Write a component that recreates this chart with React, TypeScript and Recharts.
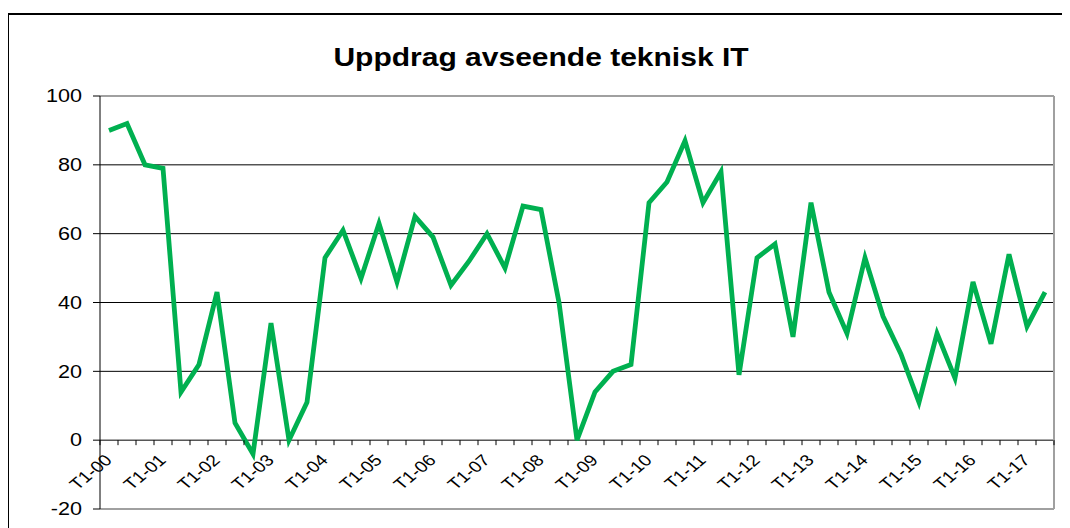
import React from 'react';
import { LineChart, Line, XAxis, YAxis, CartesianGrid } from 'recharts';

const categories = [
  'T1-00', 'T2-00', 'T3-00', 'T1-01', 'T2-01', 'T3-01', 'T1-02', 'T2-02', 'T3-02',
  'T1-03', 'T2-03', 'T3-03', 'T1-04', 'T2-04', 'T3-04', 'T1-05', 'T2-05', 'T3-05',
  'T1-06', 'T2-06', 'T3-06', 'T1-07', 'T2-07', 'T3-07', 'T1-08', 'T2-08', 'T3-08',
  'T1-09', 'T2-09', 'T3-09', 'T1-10', 'T2-10', 'T3-10', 'T1-11', 'T2-11', 'T3-11',
  'T1-12', 'T2-12', 'T3-12', 'T1-13', 'T2-13', 'T3-13', 'T1-14', 'T2-14', 'T3-14',
  'T1-15', 'T2-15', 'T3-15', 'T1-16', 'T2-16', 'T3-16', 'T1-17', 'T2-17',
];

const values = [
  90, 92, 80, 79, 14, 22, 43, 5, -4, 34,
  0, 11, 53, 61, 47, 63, 46, 65, 59, 45,
  52, 60, 50, 68, 67, 40, 0, 14, 20, 22,
  69, 75, 87, 69, 78, 19, 53, 57, 30, 69,
  43, 31, 53, 36, 25, 11, 31, 18, 46, 28,
  54, 33, 43,
];

const yTicks = [-20, 0, 20, 40, 60, 80, 100];

const title = 'Uppdrag avseende teknisk IT';

const data = categories.map((c, i) => ({ label: c, value: values[i] }));

// chart geometry (relative to #root)
const W = 1062;
const H = 520;
const M_TOP = 87;
const TOP_AXIS_H = 1;
const Y_AXIS_W = 92;
const RIGHT_AXIS_W = 1;
const M_RIGHT = 15;
const X_AXIS_H = 19;
const PLOT_TOP = M_TOP + TOP_AXIS_H;
const PLOT_W = W - Y_AXIS_W - RIGHT_AXIS_W - M_RIGHT;
const PLOT_H = H - PLOT_TOP - X_AXIS_H;
const Y_MIN = -20;
const Y_MAX = 100;
const ZERO_Y = PLOT_TOP + (PLOT_H * (Y_MAX - 0)) / (Y_MAX - Y_MIN);

const FONT = '"Liberation Sans", Arial, sans-serif';
const STRETCH = 1.2;

function XTick(props: any) {
  const { x, payload } = props;
  const idx = categories.indexOf(payload.value);
  const band = PLOT_W / categories.length;
  const lbl = payload.value as string;
  return (
    <g>
      <line x1={x - band / 2} x2={x - band / 2} y1={ZERO_Y} y2={ZERO_Y + 5} stroke="#000" strokeWidth={1} />
      {idx === categories.length - 1 && (
        <line x1={x + band / 2} x2={x + band / 2} y1={ZERO_Y} y2={ZERO_Y + 5} stroke="#000" strokeWidth={1} />
      )}
      {lbl.startsWith('T1') && (
        <text
          transform={`translate(${x + 4},${ZERO_Y + 21}) scale(${STRETCH},1) rotate(-45)`}
          textAnchor="end"
          fontSize={16}
          fontFamily={FONT}
          fill="#000"
        >
          {lbl}
        </text>
      )}
    </g>
  );
}

function YTick(props: any) {
  const { x, y, payload } = props;
  return (
    <text
      transform={`translate(${x},${y}) scale(${STRETCH},1)`}
      textAnchor="end"
      dy="0.35em"
      fontSize={18}
      fontFamily={FONT}
      fill="#000"
    >
      {payload.value}
    </text>
  );
}

export default function App() {
  return (
    <div style={{ position: 'relative', width: W, height: H, fontFamily: FONT }}>
      <div
        style={{
          position: 'absolute',
          left: -1,
          top: 5,
          width: 1061,
          height: 520,
          borderLeft: '2px solid #000',
          borderTop: '2px solid #000',
        }}
      />
      <div
        style={{
          position: 'absolute',
          left: 0,
          top: 37,
          width: 1066,
          textAlign: 'center',
          fontSize: 25,
          lineHeight: '25px',
          fontWeight: 'bold',
          color: '#000',
          transform: `scaleX(${STRETCH})`,
        }}
      >
        {title}
      </div>
      <div style={{ position: 'absolute', left: 0, top: 0 }}>
        <LineChart width={W} height={H} data={data} margin={{ top: M_TOP, right: M_RIGHT, bottom: 0, left: 0 }}>
          <CartesianGrid vertical={false} stroke="#000" strokeWidth={1} />
          <XAxis
            dataKey="label"
            type="category"
            scale="band"
            interval={0}
            height={X_AXIS_H}
            axisLine={{ stroke: '#a0a0a0', strokeWidth: 2 }}
            tickLine={false}
            tickSize={0}
            tickMargin={0}
            tick={<XTick />}
          />
          <XAxis
            xAxisId="top"
            dataKey="label"
            type="category"
            scale="band"
            orientation="top"
            height={TOP_AXIS_H}
            axisLine={{ stroke: '#a0a0a0', strokeWidth: 2 }}
            tickLine={false}
            tick={false}
          />
          <YAxis
            type="number"
            domain={[Y_MIN, Y_MAX]}
            ticks={yTicks}
            interval={0}
            width={Y_AXIS_W}
            axisLine={{ stroke: '#000', strokeWidth: 1 }}
            tickLine={{ stroke: '#000' }}
            tickSize={7}
            tickMargin={11}
            tick={<YTick />}
          />
          <YAxis
            yAxisId="r"
            orientation="right"
            type="number"
            domain={[Y_MIN, Y_MAX]}
            width={RIGHT_AXIS_W}
            axisLine={{ stroke: '#a0a0a0', strokeWidth: 2 }}
            tickLine={false}
            tick={false}
          />
          <Line
            type="linear"
            dataKey="value"
            stroke="#00b050"
            strokeWidth={4.8}
            dot={false}
            activeDot={false}
            isAnimationActive={false}
          />
        </LineChart>
      </div>
    </div>
  );
}
